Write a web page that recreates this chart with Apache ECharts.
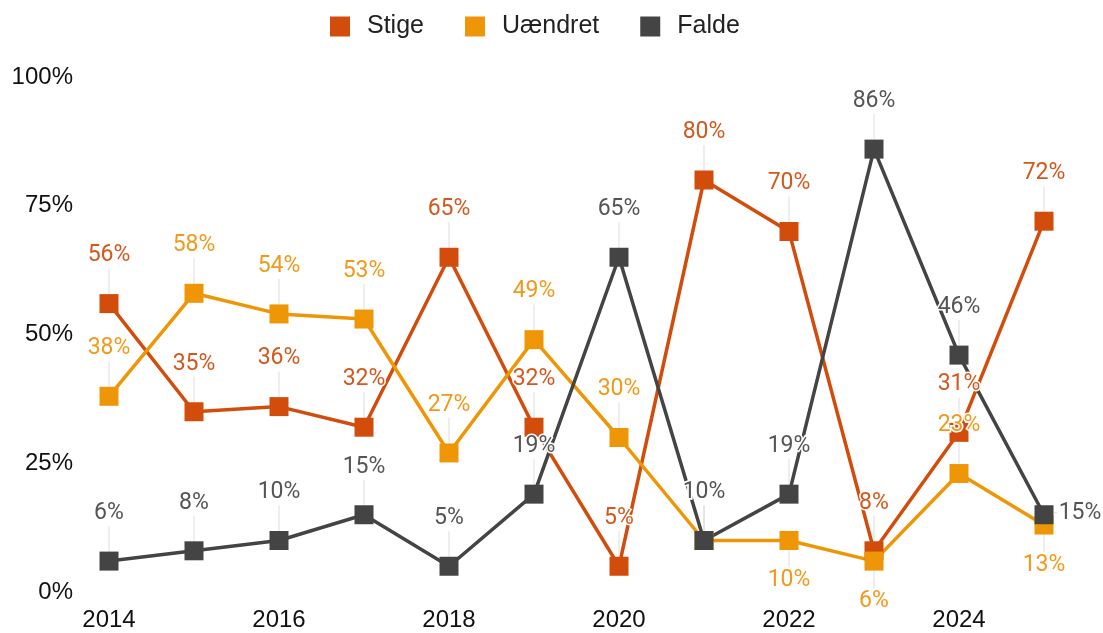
<!DOCTYPE html>
<html>
<head>
<meta charset="utf-8">
<script src="https://cdn.jsdelivr.net/npm/echarts@6/dist/echarts.min.js"></script>
<style>
  html, body { margin: 0; padding: 0; background: #fff; }
  #main { width: 1103px; height: 633px; }
</style>
</head>
<body>
<div id="main"></div>
<script>
// år
var years = ['2014', '2015', '2016', '2017', '2018', '2019', '2020', '2021', '2022', '2023', '2024', '2025'];
// andel i procent
var stige = [56, 35, 36, 32, 65, 32, 5, 80, 70, 8, 31, 72];
var uaendret = [38, 58, 54, 53, 27, 49, 30, 10, 10, 6, 23, 13];
var falde = [6, 8, 10, 15, 5, 19, 65, 10, 19, 86, 46, 15];
var yTicks = [0, 25, 50, 75, 100];

var colors = ['#d24d0b', '#ef9606', '#444444'];
var labelColors = ['#d2581e', '#f09a1c', '#555555'];

// hvor labels skal stå under / til højre (resten over)
var below = { 1: [8, 9, 11] };
var right = { 2: [11] };

var chart = echarts.init(document.getElementById('main'));

function labelPos(params) {
  var s = params.seriesIndex, i = params.dataIndex;
  if (right[s] && right[s].indexOf(i) >= 0) return { dx: 36, dy: -2 };
  if (below[s] && below[s].indexOf(i) >= 0) return { dy: 40 };
  return { dy: -48 };
}

function makeSeries(name, data, idx) {
  return {
    name: name,
    type: 'line',
    data: data,
    symbol: 'rect',
    symbolSize: 19,
    lineStyle: { width: 3.5, color: colors[idx] },
    itemStyle: { color: colors[idx] },
    label: {
      show: true,
      position: 'inside',
      formatter: '{c}%',
      fontSize: 23,
      fontFamily: 'Roboto',
      color: labelColors[idx],
      textBorderColor: '#fff',
      textBorderWidth: 3
    },
    labelLine: {
      show: true,
      lineStyle: { color: '#dddddd', width: 1 }
    },
    labelLayout: labelPos,
    emphasis: { disabled: true },
    animation: false
  };
}

var option = {
  color: colors,
  textStyle: { fontFamily: 'Liberation Sans' },
  legend: {
    top: 9,
    left: 325,
    icon: 'rect',
    itemWidth: 20,
    itemHeight: 20,
    itemGap: 41,
    textStyle: { fontSize: 25, color: '#222', padding: [0, 0, 0, 12], fontFamily: 'Liberation Sans' },
    data: ['Stige', 'Uændret', 'Falde']
  },
  grid: { left: 109, right: 59, top: 77, bottom: 41, containLabel: false },
  xAxis: {
    type: 'category',
    data: years,
    boundaryGap: false,
    axisLine: { show: false },
    axisTick: { show: false },
    axisLabel: { interval: 1, fontSize: 24, color: '#111', margin: 16, fontFamily: 'Liberation Sans' }
  },
  yAxis: {
    type: 'value',
    min: yTicks[0],
    max: yTicks[yTicks.length - 1],
    interval: 25,
    splitLine: { show: false },
    axisLine: { show: false },
    axisTick: { show: false },
    axisLabel: { formatter: '{value}%', fontSize: 24, color: '#111', margin: 36, fontFamily: 'Liberation Sans' }
  },
  series: [
    makeSeries('Stige', stige, 0),
    makeSeries('Uændret', uaendret, 1),
    makeSeries('Falde', falde, 2)
  ]
};

chart.setOption(option);
</script>
</body>
</html>
